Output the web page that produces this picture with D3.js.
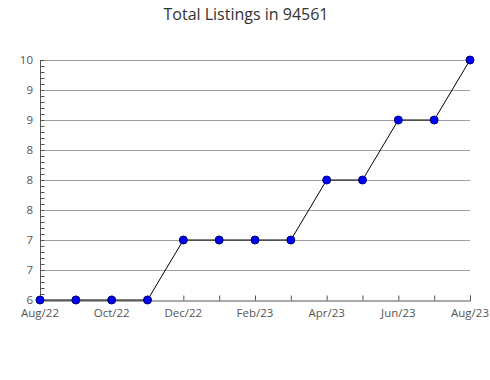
<!DOCTYPE html>
<html>
<head>
<meta charset="utf-8">
<script src="https://cdn.jsdelivr.net/npm/d3@7"></script>
<style>
html,body{margin:0;padding:0;background:#fff;}
svg{display:block;}
text{font-family:"Open Sans",sans-serif;}
</style>
</head>
<body>
<svg id="chart" width="490" height="380"></svg>
<script>
const title = "Total Listings in 94561";
const months = ["Aug/22","Sep/22","Oct/22","Nov/22","Dec/22","Jan/23","Feb/23","Mar/23","Apr/23","May/23","Jun/23","Jul/23","Aug/23"];
const listings = [6,6,6,6,7,7,7,7,8,8,9,9,10];
const yTickValues = [6,6.5,7,7.5,8,8.5,9,9.5,10];
const yTickLabels = ["6","7","7","8","8","8","9","9","10"];

const svg = d3.select("#chart");
const m = {left:40, right:20, top:60, bottom:80};
const W = 490, H = 380;

const x = d3.scaleLinear().domain([0, months.length-1]).range([m.left, W - m.right]);
const y = d3.scaleLinear().domain([6,10]).range([H - m.bottom, m.top]);

svg.append("text").attr("x",246).attr("y",20).attr("text-anchor","middle")
  .style("font-size","16px").attr("fill","#333").text(title);

// gridlines
svg.append("g").selectAll("line").data(yTickValues.slice(1)).join("line")
  .attr("x1",m.left).attr("x2",W-m.right)
  .attr("y1",d=>y(d)+0.5).attr("y2",d=>y(d)+0.5)
  .attr("stroke","#a0a0a0").attr("stroke-width",1);

// y axis minor ticks
const minor = d3.range(0, 41).map(i => 6 + i*0.1);
const yAxisMinor = d3.axisRight(y).tickValues(minor).tickSize(4).tickFormat("");
const gy = svg.append("g").attr("transform",`translate(${m.left+0.5},0)`).call(yAxisMinor);
gy.select(".domain").attr("stroke","#555").attr("d",`M0,${y(6)}V${y(10)}`);
gy.selectAll(".tick line").attr("stroke","#555");

// y labels
svg.append("g").selectAll("text").data(yTickValues).join("text")
  .attr("x", 33).attr("y", d=>y(d)+4).attr("text-anchor","end")
  .style("font-size","11.5px").attr("fill","#555")
  .text((d,i)=>yTickLabels[i]);

// x axis
const xAxis = d3.axisTop(x).tickValues(d3.range(months.length)).tickSize(5)
  .tickFormat("");
const gx = svg.append("g").attr("transform",`translate(0,${y(6)+0.5})`).call(xAxis);
gx.select(".domain").attr("stroke","#555");
gx.selectAll(".tick line").attr("stroke","#555");
svg.append("g").selectAll("text").data(months).join("text")
  .attr("x",(d,i)=>x(i)).attr("y",y(6)+17).attr("text-anchor","middle")
  .style("font-size","11.5px").attr("fill","#555")
  .text((d,i)=> i%2===0 ? d : "");

// line
const line = d3.line().x((d,i)=>x(i)).y(d=>y(d));
svg.append("path").datum(listings).attr("d",line)
  .attr("fill","none").attr("stroke","#000").attr("stroke-width",1);

// markers
svg.append("g").selectAll("circle").data(listings).join("circle")
  .attr("cx",(d,i)=>x(i)).attr("cy",d=>y(d)).attr("r",4)
  .attr("fill","#0000ff").attr("stroke","#000066").attr("stroke-width",1);
</script>
</body>
</html>
